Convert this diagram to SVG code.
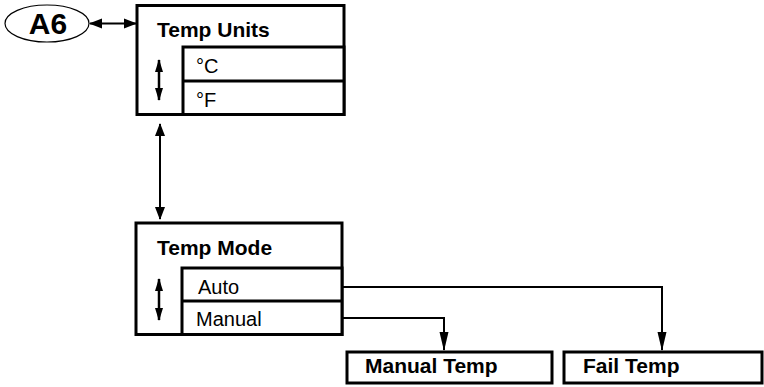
<svg xmlns="http://www.w3.org/2000/svg" width="764" height="387" viewBox="0 0 764 387">
<style>
.box{fill:#fff;stroke:#000;stroke-width:3}
.ln{fill:none;stroke:#000;stroke-width:2}
.tb{font-family:"Liberation Sans",Arial,sans-serif;font-weight:bold;font-size:21px;fill:#000}
.tr{font-family:"Liberation Sans",Arial,sans-serif;font-size:20px;fill:#000}
</style>
<defs>
<marker id="ah" markerWidth="13" markerHeight="11" refX="12" refY="5.5" orient="auto-start-reverse" markerUnits="userSpaceOnUse">
<path d="M0,0.5 L13,5.5 L0,10.5 Z" fill="#000"/>
</marker>
<marker id="ahs" markerWidth="13" markerHeight="9" refX="12" refY="4.5" orient="auto-start-reverse" markerUnits="userSpaceOnUse">
<path d="M0,0.5 L13,4.5 L0,8.5 Z" fill="#000"/>
</marker>
<marker id="ahd" markerWidth="19" markerHeight="10" refX="18" refY="5" orient="auto" markerUnits="userSpaceOnUse">
<path d="M0,0.5 L19,5 L0,9.5 Z" fill="#000"/>
</marker>
</defs>
<g id="a6">
<ellipse cx="47" cy="23.5" rx="42" ry="18.5" fill="#fff" stroke="#000" stroke-width="1.2"/>
<text x="48" y="34" class="tb" style="font-size:30px" text-anchor="middle">A6</text>
</g>
<g id="temp-units">
<rect class="box" x="137" y="5.5" width="207" height="109"/>
<rect class="box" x="183" y="47" width="161" height="67.5"/>
<line x1="183" y1="81" x2="344" y2="81" stroke="#000" stroke-width="3"/>
<text x="157" y="37" class="tb">Temp Units</text>
<text x="196" y="73" class="tr">°C</text>
<text x="196" y="107" class="tr">°F</text>
<line x1="159" y1="60" x2="159" y2="100" stroke="#000" stroke-width="2.5" marker-start="url(#ahs)" marker-end="url(#ahs)"/>
</g>
<g id="temp-mode">
<rect class="box" x="136" y="223" width="206" height="111.5"/>
<rect class="box" x="182" y="268" width="160" height="66.5"/>
<line x1="182" y1="301" x2="342" y2="301" stroke="#000" stroke-width="3"/>
<text x="157" y="255" class="tb">Temp Mode</text>
<text x="198" y="294" class="tr">Auto</text>
<text x="196" y="326" class="tr">Manual</text>
<line x1="159" y1="279" x2="159" y2="320" stroke="#000" stroke-width="2.5" marker-start="url(#ahs)" marker-end="url(#ahs)"/>
</g>
<g id="manual-temp">
<rect class="box" x="347" y="352" width="205" height="31"/>
<text x="365" y="373" class="tb">Manual Temp</text>
</g>
<g id="fail-temp">
<rect class="box" x="564" y="352" width="198" height="31"/>
<text x="583" y="373" class="tb">Fail Temp</text>
</g>
<g id="connectors">
<line class="ln" x1="90" y1="23.5" x2="136" y2="23.5" stroke-width="2.5" marker-start="url(#ah)" marker-end="url(#ah)"/>
<line class="ln" x1="160" y1="124" x2="160" y2="219" marker-start="url(#ah)" marker-end="url(#ah)"/>
<polyline class="ln" points="342,287 662,287 662,350" marker-end="url(#ahd)"/>
<polyline class="ln" points="342,318 444,318 444,350" marker-end="url(#ahd)"/>
</g>
</svg>
